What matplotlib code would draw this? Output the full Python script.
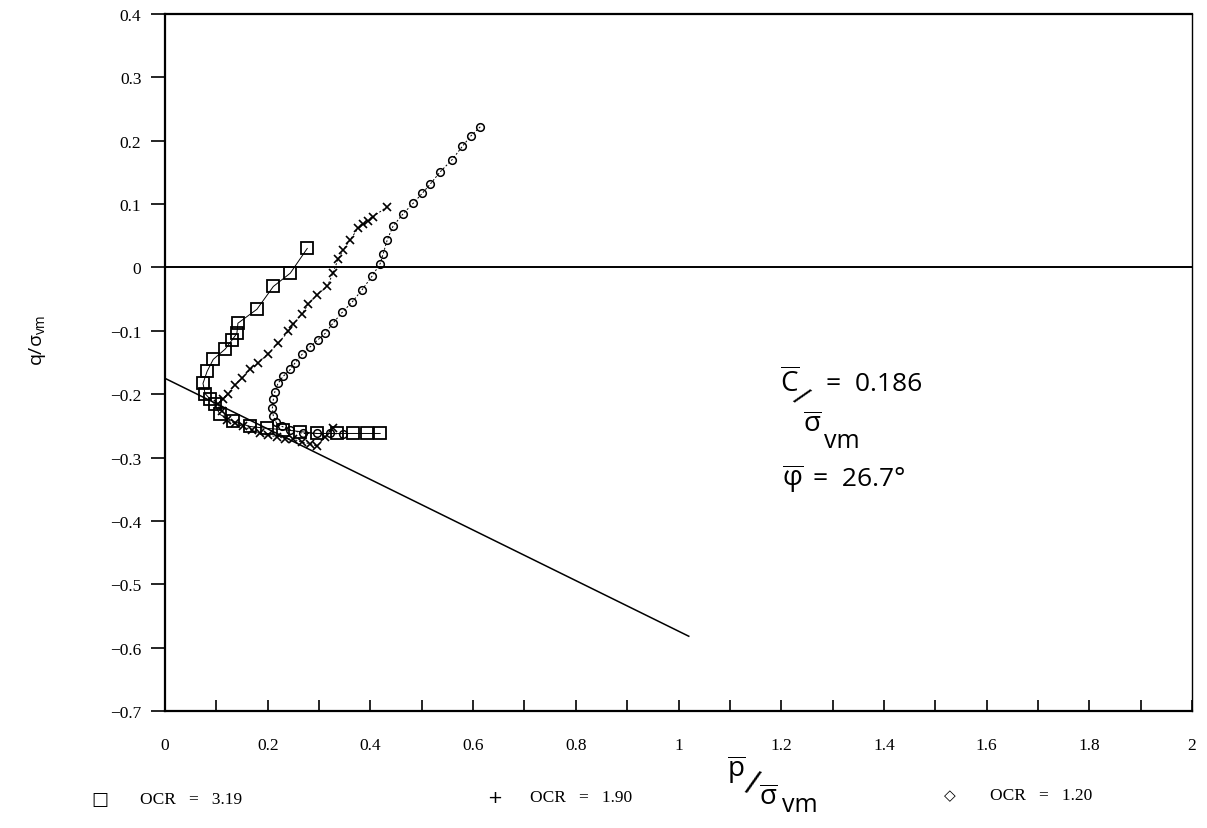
import numpy as np
import matplotlib
matplotlib.use("Agg")
import matplotlib.pyplot as plt


plt.rcParams['axes.linewidth'] = 1.6
plt.rcParams['mathtext.fontset'] = 'custom'
plt.rcParams['mathtext.rm'] = 'Open Sans'
plt.rcParams['mathtext.it'] = 'Open Sans'

W, H = 1207, 829

# stress path data (p/sigma_vm , q/sigma_vm)
ocr_319_p = [0.277, 0.244, 0.211, 0.179, 0.142, 0.140, 0.131, 0.117, 0.094, 0.082,
             0.074, 0.078, 0.088, 0.097, 0.107, 0.133, 0.166, 0.199, 0.230, 0.263,
             0.296, 0.335, 0.366, 0.394, 0.419]
ocr_319_q = [0.030, -0.009, -0.030, -0.066, -0.088, -0.104, -0.114, -0.129, -0.145, -0.164,
             -0.183, -0.199, -0.208, -0.216, -0.232, -0.243, -0.251, -0.254, -0.256, -0.259,
             -0.262, -0.262, -0.262, -0.262, -0.262]

ocr_190_p = [0.433, 0.405, 0.396, 0.386, 0.376, 0.361, 0.347, 0.337, 0.327, 0.316,
             0.296, 0.279, 0.267, 0.250, 0.240, 0.220, 0.201, 0.181, 0.166, 0.150,
             0.136, 0.123, 0.113, 0.103, 0.111, 0.121, 0.136, 0.152, 0.170, 0.185,
             0.201, 0.218, 0.234, 0.250, 0.267, 0.283, 0.296, 0.312, 0.327]
ocr_190_q = [0.096, 0.080, 0.073, 0.068, 0.062, 0.044, 0.028, 0.013, -0.009, -0.030,
             -0.043, -0.058, -0.073, -0.090, -0.101, -0.120, -0.136, -0.151, -0.161, -0.175,
             -0.185, -0.199, -0.207, -0.215, -0.226, -0.240, -0.246, -0.251, -0.257, -0.262,
             -0.265, -0.267, -0.270, -0.271, -0.276, -0.278, -0.282, -0.268, -0.254]

ocr_120_p = [0.614, 0.595, 0.579, 0.559, 0.536, 0.517, 0.501, 0.483, 0.464, 0.444,
             0.433, 0.425, 0.419, 0.403, 0.384, 0.365, 0.345, 0.327, 0.312, 0.298,
             0.283, 0.267, 0.253, 0.244, 0.230, 0.220, 0.214, 0.211, 0.209, 0.211,
             0.216, 0.228, 0.244, 0.269, 0.296, 0.322, 0.347]
ocr_120_q = [0.222, 0.207, 0.191, 0.170, 0.151, 0.132, 0.117, 0.101, 0.085, 0.065,
             0.044, 0.022, 0.006, -0.014, -0.035, -0.054, -0.071, -0.088, -0.104, -0.114,
             -0.125, -0.137, -0.151, -0.161, -0.172, -0.183, -0.196, -0.208, -0.222, -0.235,
             -0.244, -0.251, -0.256, -0.262, -0.262, -0.262, -0.263]

# failure envelope
env_p = [0.0, 1.02]
env_q = [-0.175, -0.582]

xticks = [0, 0.2, 0.4, 0.6, 0.8, 1, 1.2, 1.4, 1.6, 1.8, 2]
xticklabels = ['0', '0.2', '0.4', '0.6', '0.8', '1', '1.2', '1.4', '1.6', '1.8', '2']
yticks = [0.4, 0.3, 0.2, 0.1, 0, -0.1, -0.2, -0.3, -0.4, -0.5, -0.6, -0.7]
yticklabels = ['0.4', '0.3', '0.2', '0.1', '0', '\u22120.1', '\u22120.2', '\u22120.3',
               '\u22120.4', '\u22120.5', '\u22120.6', '\u22120.7']


def px(x, y):
    return x / W, 1 - y / H


fig = plt.figure(figsize=(W / 100, H / 100), dpi=100)
ax = fig.add_axes([165 / W, 1 - 712 / H, (1192 - 165) / W, (712 - 15) / H])

ax.plot(ocr_319_p, ocr_319_q, color='k', lw=0.7, marker='s', ms=9, mfc='none',
        mec='k', mew=1.3)
ax.plot(ocr_190_p, ocr_190_q, color='k', lw=0.7, ls=(0, (2, 2)), marker='x', ms=6,
        mec='k', mew=1.2)
ax.plot(ocr_120_p, ocr_120_q, color='k', lw=0.7, ls=(0, (2, 2)), marker='o', ms=5.5,
        mfc='none', mec='k', mew=1.1)

ax.plot(env_p, env_q, color='k', lw=1.1)
ax.axhline(0, color='k', lw=1.4)

ax.set_xlim(0, 2)
ax.set_ylim(-0.7, 0.4)
ax.set_xticks(xticks)
ax.set_xticklabels(xticklabels, family='Liberation Serif', fontsize=12.5)
ax.set_xticks(np.arange(0.1, 2.0, 0.2), minor=True)
ax.set_yticks(yticks)
ax.set_yticklabels(yticklabels, family='Liberation Serif', fontsize=12.5)
ax.tick_params(axis='x', which='both', direction='in', length=8, width=1.2, pad=19)
ax.tick_params(axis='y', direction='out', length=10, width=1.2, pad=7)
ax.spines['right'].set_linewidth(1.0)

# y label
fig.text(*px(38, 340), r'$q/\sigma_{vm}$', rotation=90, ha='center', va='center',
         fontsize=14)

# x label
fig.text(*px(736, 770), r'$\overline{\mathrm{p}}$', ha='center', va='center', fontsize=20)
fig.text(*px(752, 785), '/', ha='center', va='center', fontsize=24, family='Open Sans',
         rotation=-15)
fig.text(*px(768, 797), r'$\overline{\sigma}$', ha='center', va='center', fontsize=20)
fig.text(*px(800, 806), 'vm', ha='center', va='center', fontsize=18, family='Open Sans')

# envelope parameters
fig.text(*px(790, 383), r'$\overline{\mathrm{C}}$', ha='center', va='center', fontsize=20)
fig.text(*px(800, 398), '/', ha='center', va='center', fontsize=20, family='Open Sans',
         rotation=-35)
fig.text(*px(826, 385), '=  0.186', ha='left', va='center', fontsize=19, family='Open Sans')
fig.text(*px(812, 424), r'$\overline{\sigma}$', ha='center', va='center', fontsize=20)
fig.text(*px(842, 442), 'vm', ha='center', va='center', fontsize=18, family='Open Sans')
fig.text(*px(793, 479), '$\\overline{\\mathrm{\u03c6}}$', ha='center', va='center',
         fontsize=20)
fig.text(*px(813, 480), '=  26.7\u00b0', ha='left', va='center', fontsize=19,
         family='Open Sans')

# legend row
fig.text(*px(100, 800), '\u25a1', ha='center', va='center', fontsize=13)
fig.text(*px(140, 800), 'OCR   =   3.19', ha='left', va='center', fontsize=12.5,
         family='Liberation Serif')
fig.text(*px(495, 798), '+', ha='center', va='center', fontsize=13)
fig.text(*px(530, 798), 'OCR   =   1.90', ha='left', va='center', fontsize=12.5,
         family='Liberation Serif')
fig.text(*px(950, 796), '\u25c7', ha='center', va='center', fontsize=11)
fig.text(*px(990, 796), 'OCR   =   1.20', ha='left', va='center', fontsize=12.5,
         family='Liberation Serif')

fig.savefig('out.png', dpi=100)
